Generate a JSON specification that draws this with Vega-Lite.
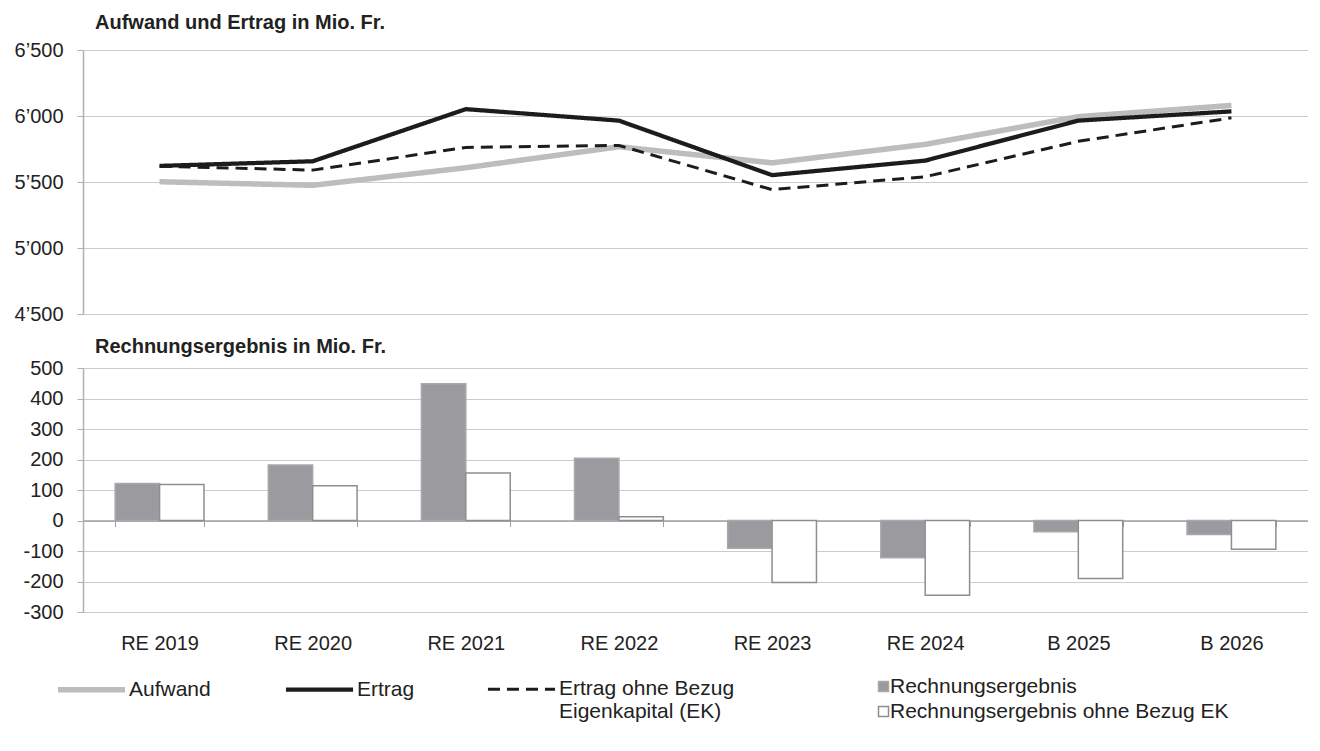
{
  "$schema": "https://vega.github.io/schema/vega-lite/v6.json",
  "padding": {"left": 14, "top": 13, "right": 0, "bottom": 0},
  "bounds": "flush",
  "spacing": 54,
  "config": {
    "font": "Liberation Sans",
    "view": {"stroke": null},
    "axis": {
      "labelFont": "Liberation Sans",
      "labelFontSize": 20,
      "labelColor": "#222222",
      "gridColor": "#cccccc",
      "gridWidth": 1,
      "domainColor": "#b0b0b0",
      "tickColor": "#b0b0b0",
      "domainWidth": 1.5,
      "tickSize": 6,
      "title": null
    },
    "legend": {"labelFont": "Liberation Sans", "labelFontSize": 21, "labelColor": "#222222"},
    "title": {"font": "Liberation Sans", "fontSize": 20, "fontWeight": "bold", "color": "#222222", "anchor": "start", "frame": "group"}
  },
  "datasets": {
    "lines": [
      {"jahr": "RE 2019", "serie": "Aufwand", "wert": 5502},
      {"jahr": "RE 2020", "serie": "Aufwand", "wert": 5475},
      {"jahr": "RE 2021", "serie": "Aufwand", "wert": 5608},
      {"jahr": "RE 2022", "serie": "Aufwand", "wert": 5767},
      {"jahr": "RE 2023", "serie": "Aufwand", "wert": 5645},
      {"jahr": "RE 2024", "serie": "Aufwand", "wert": 5785},
      {"jahr": "B 2025", "serie": "Aufwand", "wert": 5995},
      {"jahr": "B 2026", "serie": "Aufwand", "wert": 6080},
      {"jahr": "RE 2019", "serie": "Ertrag", "wert": 5622},
      {"jahr": "RE 2020", "serie": "Ertrag", "wert": 5657},
      {"jahr": "RE 2021", "serie": "Ertrag", "wert": 6052},
      {"jahr": "RE 2022", "serie": "Ertrag", "wert": 5965},
      {"jahr": "RE 2023", "serie": "Ertrag", "wert": 5552},
      {"jahr": "RE 2024", "serie": "Ertrag", "wert": 5662},
      {"jahr": "B 2025", "serie": "Ertrag", "wert": 5965},
      {"jahr": "B 2026", "serie": "Ertrag", "wert": 6035},
      {"jahr": "RE 2019", "serie": "Ertrag ohne Bezug Eigenkapital (EK)", "wert": 5620},
      {"jahr": "RE 2020", "serie": "Ertrag ohne Bezug Eigenkapital (EK)", "wert": 5590},
      {"jahr": "RE 2021", "serie": "Ertrag ohne Bezug Eigenkapital (EK)", "wert": 5762},
      {"jahr": "RE 2022", "serie": "Ertrag ohne Bezug Eigenkapital (EK)", "wert": 5777},
      {"jahr": "RE 2023", "serie": "Ertrag ohne Bezug Eigenkapital (EK)", "wert": 5442},
      {"jahr": "RE 2024", "serie": "Ertrag ohne Bezug Eigenkapital (EK)", "wert": 5540},
      {"jahr": "B 2025", "serie": "Ertrag ohne Bezug Eigenkapital (EK)", "wert": 5808},
      {"jahr": "B 2026", "serie": "Ertrag ohne Bezug Eigenkapital (EK)", "wert": 5986}
    ],
    "bars": [
      {"jahr": "RE 2019", "serie": "Rechnungsergebnis", "wert": 121},
      {"jahr": "RE 2020", "serie": "Rechnungsergebnis", "wert": 182},
      {"jahr": "RE 2021", "serie": "Rechnungsergebnis", "wert": 448},
      {"jahr": "RE 2022", "serie": "Rechnungsergebnis", "wert": 204},
      {"jahr": "RE 2023", "serie": "Rechnungsergebnis", "wert": -91},
      {"jahr": "RE 2024", "serie": "Rechnungsergebnis", "wert": -122},
      {"jahr": "B 2025", "serie": "Rechnungsergebnis", "wert": -37},
      {"jahr": "B 2026", "serie": "Rechnungsergebnis", "wert": -46},
      {"jahr": "RE 2019", "serie": "Rechnungsergebnis ohne Bezug EK", "wert": 118},
      {"jahr": "RE 2020", "serie": "Rechnungsergebnis ohne Bezug EK", "wert": 114},
      {"jahr": "RE 2021", "serie": "Rechnungsergebnis ohne Bezug EK", "wert": 156},
      {"jahr": "RE 2022", "serie": "Rechnungsergebnis ohne Bezug EK", "wert": 12},
      {"jahr": "RE 2023", "serie": "Rechnungsergebnis ohne Bezug EK", "wert": -203},
      {"jahr": "RE 2024", "serie": "Rechnungsergebnis ohne Bezug EK", "wert": -245},
      {"jahr": "B 2025", "serie": "Rechnungsergebnis ohne Bezug EK", "wert": -190},
      {"jahr": "B 2026", "serie": "Rechnungsergebnis ohne Bezug EK", "wert": -94}
    ]
  },
  "resolve": {
    "scale": {"x": "independent", "y": "independent", "stroke": "independent", "fill": "independent", "strokeDash": "independent", "strokeWidth": "independent"},
    "legend": {"stroke": "independent", "fill": "independent"}
  },
  "vconcat": [
    {
      "width": 1225,
      "height": 264,
      "title": {"text": "Aufwand und Ertrag in Mio. Fr.", "dx": 12, "offset": 7},
      "data": {"name": "lines"},
      "mark": {"type": "line", "strokeCap": "butt"},
      "encoding": {
        "x": {
          "field": "jahr", "type": "ordinal",
          "sort": ["RE 2019", "RE 2020", "RE 2021", "RE 2022", "RE 2023", "RE 2024", "B 2025", "B 2026"],
          "scale": {"type": "point", "padding": 0.5},
          "axis": null
        },
        "y": {
          "field": "wert", "type": "quantitative",
          "scale": {"domain": [4500, 6500], "nice": false, "zero": false},
          "axis": {"values": [4500, 5000, 5500, 6000, 6500], "labelPadding": 14, "labelExpr": "replace(format(datum.value, ','), ',', '’')"}
        },
        "stroke": {
          "field": "serie", "type": "nominal",
          "scale": {"domain": ["Aufwand", "Ertrag", "Ertrag ohne Bezug Eigenkapital (EK)"], "range": ["#bdbdc1", "#1c1c1c", "#1c1c1c"]},
          "legend": {
            "orient": "none", "legendX": -28, "legendY": 603,
            "direction": "horizontal", "columns": 3, "title": null,
            "symbolType": "stroke", "symbolSize": 4500, "labelOffset": 1,
            "columnPadding": 66, "labelBaseline": "top",
            "labelExpr": "datum.label == 'Ertrag ohne Bezug Eigenkapital (EK)' ? ['Ertrag ohne Bezug', 'Eigenkapital (EK)'] : [datum.label, '']",
            "labelLimit": 400,
            "encode": {"labels": {"update": {"dy": {"value": -11}}}}
          }
        },
        "strokeDash": {
          "field": "serie", "type": "nominal",
          "scale": {"domain": ["Aufwand", "Ertrag", "Ertrag ohne Bezug Eigenkapital (EK)"], "range": [[1, 0], [1, 0], [12, 7]]}
        },
        "strokeWidth": {
          "field": "serie", "type": "nominal",
          "scale": {"domain": ["Aufwand", "Ertrag", "Ertrag ohne Bezug Eigenkapital (EK)"], "range": [5.5, 3, 3.5]}
        }
      }
    },
    {
      "width": 1225,
      "height": 244,
      "title": {"text": "Rechnungsergebnis in Mio. Fr.", "dx": 12, "offset": 1},
      "data": {"name": "bars"},
      "mark": {"type": "bar", "strokeWidth": 1.5},
      "encoding": {
        "x": {
          "field": "jahr", "type": "nominal",
          "sort": ["RE 2019", "RE 2020", "RE 2021", "RE 2022", "RE 2023", "RE 2024", "B 2025", "B 2026"],
          "scale": {"paddingInner": 0.42, "paddingOuter": 0.21},
          "axis": {"orient": "bottom", "offset": -91.5, "labelAngle": 0, "tickBand": "extent", "tickSize": 6, "labelPadding": 107, "grid": false, "domainColor": "#a0a0a0", "tickColor": "#a0a0a0"}
        },
        "xOffset": {
          "field": "serie", "type": "nominal",
          "sort": ["Rechnungsergebnis", "Rechnungsergebnis ohne Bezug EK"],
          "scale": {"paddingInner": 0, "paddingOuter": 0}
        },
        "y": {
          "field": "wert", "type": "quantitative",
          "scale": {"domain": [-300, 500], "nice": false, "zero": false},
          "axis": {"values": [-300, -200, -100, 0, 100, 200, 300, 400, 500], "labelPadding": 14, "labelExpr": "datum.value < 0 ? '-' + abs(datum.value) : '' + datum.value"}
        },
        "fill": {
          "field": "serie", "type": "nominal",
          "scale": {"domain": ["Rechnungsergebnis", "Rechnungsergebnis ohne Bezug EK"], "range": ["#9b9b9f", "#ffffff"]},
          "legend": {
            "orient": "none", "legendX": 790, "legendY": 308,
            "direction": "vertical", "title": null,
            "symbolType": "square", "symbolSize": 100, "labelOffset": -4, "rowPadding": 3,
            "labelLimit": 500
          }
        },
        "stroke": {
          "field": "serie", "type": "nominal",
          "scale": {"domain": ["Rechnungsergebnis", "Rechnungsergebnis ohne Bezug EK"], "range": ["#a9a9ad", "#8e8e8e"]}
        }
      }
    }
  ]
}
